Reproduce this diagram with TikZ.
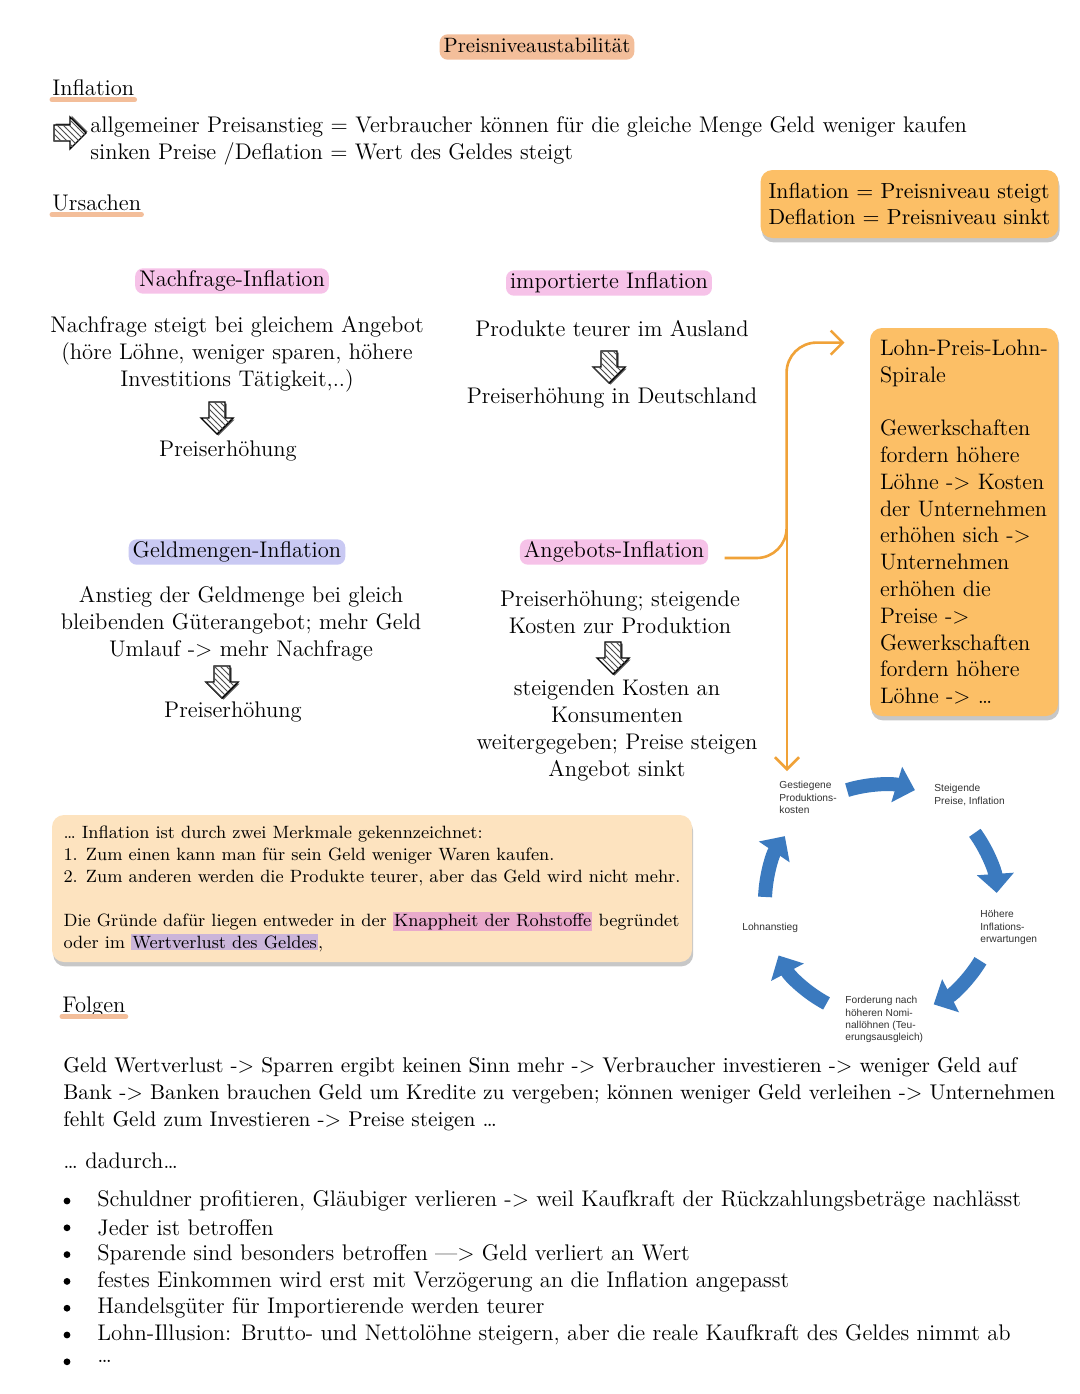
\documentclass[tikz,border=0pt]{standalone}
\usepackage{fontspec}
\usepackage{xcolor}
\usepackage{tikz}
\usetikzlibrary{arrows.meta,positioning,shadows,patterns,calc}
\newfontfamily\cyclefont{Liberation Sans}

\definecolor{peach}{HTML}{F3BE9A}
\definecolor{pinkhl}{HTML}{F6C2E8}
\definecolor{lavhl}{HTML}{C9C9F3}
\definecolor{boxorange}{HTML}{FCBF66}
\definecolor{boxpeach}{HTML}{FDE3BF}
\definecolor{linkorange}{HTML}{F0A238}
\definecolor{cycblue}{HTML}{3B7ABF}
\definecolor{knapp}{HTML}{E9AACB}
\definecolor{wert}{HTML}{CBB5DA}

\newcommand{\hiword}[2]{{\setlength{\fboxsep}{0.6pt}\colorbox{#1}{#2}}}

\tikzset{
  pics/hatcharrow/.style={code={
    \fill[black!65] (-6.5,-14.5) -- (9.5,-14.5) -- (9.5,1.5) -- (17.5,1.5) -- (1.5,17.5) -- (-14.5,1.5) -- (-6.5,1.5) -- cycle;
    \draw[fill=white, line width=0.7pt, line join=miter] (-8,-16) -- (8,-16) -- (8,0) -- (16,0) -- (0,16) -- (-16,0) -- (-8,0) -- cycle;
    \path[pattern=north west lines, pattern color=black!70] (-8,-16) -- (8,-16) -- (8,0) -- (16,0) -- (0,16) -- (-16,0) -- (-8,0) -- cycle;
  }}
}

\begin{document}
\begin{tikzpicture}[x=0.5pt, y=-0.5pt,
  every node/.style={font=\fontsize{11.3}{13.5}\selectfont, inner sep=0pt},
  body/.style={align=center},
  hl/.style={fill=#1, rounded corners=4pt, inner xsep=2pt, inner ysep=1.2pt, text height=7.9pt, text depth=2.4pt},
  uline/.style={peach, line width=2.5pt, line cap=round},
  infobox/.style={rounded corners=6pt, align=left, inner xsep=4pt, drop shadow={shadow xshift=0.6pt, shadow yshift=-2.2pt, fill=black, opacity=0.22}},
  conn/.style={linkorange, line width=1.3pt, -{Straight Barb[length=6pt,width=12pt]}},
  cycarrow/.style={cycblue, line width=7pt, -{Triangle[length=9.5pt,width=18pt]}},
  cyc/.style={font=\cyclefont\fontsize{5.1}{6.1}\selectfont, align=left, anchor=north west, text=black!80}]

\useasboundingbox[fill=white] (0,0) rectangle (1080,1394);

\node[hl=peach, font=\fontsize{10.4}{12}\selectfont] (title) at (537,47) {Preisniveaustabilität};

\node[anchor=west] (infl) at (52,88) {Inflation};
\draw[uline] ([yshift=-2pt]infl.base west) -- ([yshift=-2pt]infl.base east);
\pic[rotate=90] at (70,133) {hatcharrow};
\node[anchor=west] (defline) at (90,127) {allgemeiner Preisanstieg = Verbraucher können für die gleiche Menge Geld weniger kaufen};
\node[anchor=west] (sinkline) at (90,154) {sinken Preise /Deflation = Wert des Geldes steigt};

\node[anchor=west] (urs) at (52,203) {Ursachen};
\draw[uline] ([yshift=-2pt]urs.base west) -- ([yshift=-2pt]urs.base east);

\node[infobox, fill=boxorange, minimum width=147.5pt, minimum height=34pt, font=\fontsize{10.9}{13}\selectfont] (defbox) at (909.5,204) {Inflation = Preisniveau steigt\\Deflation = Preisniveau sinkt};

\node[hl=pinkhl] (nachf) at (232,281) {Nachfrage-Inflation};
\node[body] (nachftxt) at (237,354) {Nachfrage steigt bei gleichem Angebot\\(höre Löhne, weniger sparen, höhere\\Investitions Tätigkeit,..)};
\pic at (217,418) {hatcharrow};
\node (nachfres) at (228,451) {Preiserhöhung};

\node[hl=pinkhl] (import) at (609,283) {importierte Inflation};
\node (importtxt) at (612,329) {Produkte teurer im Ausland};
\pic at (609,367) {hatcharrow};
\node (importres) at (612,398) {Preiserhöhung in Deutschland};

\node[hl=lavhl] (geld) at (237,552) {Geldmengen-Inflation};
\node[body] (geldtxt) at (241,624) {Anstieg der Geldmenge bei gleich\\bleibenden Güterangebot; mehr Geld\\Umlauf -> mehr Nachfrage};
\pic at (222,682) {hatcharrow};
\node (geldres) at (233,712) {Preiserhöhung};

\node[hl=pinkhl] (angebot) at (614,552) {Angebots-Inflation};
\node[body] (angebottxt) at (620,612) {Preiserhöhung; steigende\\Kosten zur Produktion};
\pic at (613,658) {hatcharrow};
\node[body] (angebotres) at (617,730) {steigenden Kosten an\\Konsumenten\\weitergegeben; Preise steigen\\Angebot sinkt};

\node[infobox, fill=boxorange, minimum width=94pt, minimum height=194pt, inner xsep=3.5pt, font=\fontsize{11.2}{13.4}\selectfont] (lohn) at (964,522) {Lohn-Preis-Lohn-\\Spirale\\[13.4pt]Gewerkschaften\\fordern höhere\\Löhne -> Kosten\\der Unternehmen\\erhöhen sich ->\\Unternehmen\\erhöhen die\\Preise ->\\Gewerkschaften\\fordern höhere\\Löhne -> …};

\node[cyc] (gest) at (779,781) {Gestiegene\\Produktions-\\kosten};
\node[cyc] (steig) at (934,784) {Steigende\\Preise, Inflation};
\node[cyc] (hoeh) at (980,910) {Höhere\\Inflations-\\erwartungen};
\node[cyc] (ford) at (845,996) {Forderung nach\\höheren Nomi-\\nallöhnen (Teu-\\erungsausgleich)};
\node[cyc] (lohnan) at (742,923) {Lohnanstieg};

\coordinate (lohnin) at ([shift={(-25,15)}]lohn.north west);
\coordinate (forkend) at ([shift={(8,-10)}]gest.north west);
\draw[conn, rounded corners=15pt] ([shift={(16,6)}]angebot.east) -| ([shift={(-58,0)}]lohnin) -- (lohnin);
\draw[conn] ($(forkend |- angebot)+(0,-22)$) -- (forkend);

\coordinate (cc) at (881,901);
\foreach \a/\b in {-107/-73, -36/-4, 31/63, 118/152, 182/214}
  \draw[cycarrow] ($(cc)+(\a:116)$) arc[start angle=\a, end angle=\b, radius=116];

\node[infobox, fill=boxpeach, minimum width=320pt, minimum height=73.5pt, font=\fontsize{8.9}{11}\selectfont] (merkbox) at (372,888.5) {… Inflation ist durch zwei Merkmale gekennzeichnet:\\1. Zum einen kann man für sein Geld weniger Waren kaufen.\\2. Zum anderen werden die Produkte teurer, aber das Geld wird nicht mehr.\\[11pt]Die Gründe dafür liegen entweder in der \hiword{knapp}{Knappheit der Rohstoffe} begründet\\oder im \hiword{wert}{Wertverlust des Geldes},};

\node[anchor=west] (folgen) at (62,1007) {Folgen};
\draw[uline] ([yshift=-2pt]folgen.base west) -- ([yshift=-2pt]folgen.base east);

\node[anchor=west, align=left, font=\fontsize{10.65}{13.5}\selectfont] (folgentxt) at (63,1094) {Geld Wertverlust -> Sparren ergibt keinen Sinn mehr -> Verbraucher investieren -> weniger Geld auf\\Bank -> Banken brauchen Geld um Kredite zu vergeben; können weniger Geld verleihen -> Unternehmen\\fehlt Geld zum Investieren -> Preise steigen …};
\node[anchor=west] (dadurch) at (63,1161) {… dadurch…};

\foreach \txt [count=\i] in {{Schuldner profitieren, Gläubiger verlieren -> weil Kaufkraft der Rückzahlungsbeträge nachlässt}, Jeder ist betroffen, Sparende sind besonders betroffen —> Geld verliert an Wert, festes Einkommen wird erst mit Verzögerung an die Inflation angepasst, Handelsgüter für Importierende werden teurer, Lohn-Illusion: Brutto- und Nettolöhne steigern{,} aber die reale Kaufkraft des Geldes nimmt ab, …}
{
  \node[anchor=west] (folge\i) at (97,1174.2+26.8*\i) {\txt};
  \fill ($(folge\i.west)+(-30,0)$) circle (1.7pt);
}
\end{tikzpicture}
\end{document}
